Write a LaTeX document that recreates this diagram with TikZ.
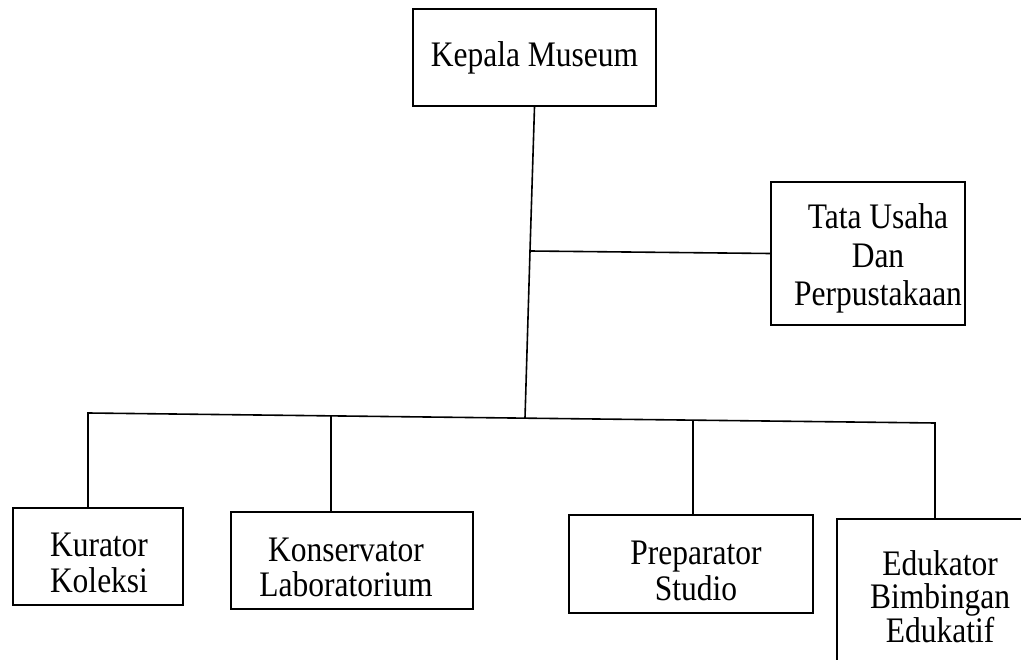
\documentclass[tikz,border=0pt]{standalone}
\usepackage{graphicx}
\usepackage{fontspec}
\setmainfont{Liberation Serif}
\newcommand\vstretch[1]{\scalebox{1}[1.14]{#1}}
\begin{document}
\begin{tikzpicture}[x=1pt,y=-1pt,
  box/.style={draw, line width=1.6pt, rectangle, inner sep=0pt},
  lbl/.style={inner sep=0pt, align=center, font=\fontsize{31.5}{36}\selectfont},
  link/.style={line width=1.6pt, line join=miter}]
\useasboundingbox (0,0) rectangle (1021,660);
\clip (0,0) rectangle (1021,660);

% boxes
\node[box, minimum width=243pt, minimum height=97pt] (kep) at (534.5,57.5) {};
\node[box, minimum width=194pt, minimum height=143pt] (tata) at (868,253.5) {};
\node[box, minimum width=170pt, minimum height=97pt] (kur) at (98,556.5) {};
\node[box, minimum width=242pt, minimum height=97pt] (kon) at (352,560.5) {};
\node[box, minimum width=244pt, minimum height=98pt] (pre) at (691,564) {};
\node[box, minimum width=230pt, minimum height=180pt, anchor=north west] (edu) at (836,518) {};

% texts
\node[lbl] (kept) at (534.5,57.6) {\vstretch{Kepala Museum}};
\node[lbl, font=\fontsize{31.5}{38.5}\selectfont] (tatat) at (878,258.5) {\vstretch{Tata Usaha}\\\vstretch{Dan}\\\vstretch{Perpustakaan}};
\node[lbl] (kurt) at (99,563.1) {\vstretch{Kurator}\\\vstretch{Koleksi}};
\node[lbl, font=\fontsize{31.5}{35}\selectfont] (kont) at (346,567.3) {\vstretch{Konservator}\\\vstretch{Laboratorium}};
\node[lbl] (pret) at (696,571.1) {\vstretch{Preparator}\\\vstretch{Studio}};
\node[lbl, font=\fontsize{31.5}{33.5}\selectfont] (edut) at (940,596.25) {\vstretch{Edukator}\\\vstretch{Bimbingan}\\\vstretch{Edukatif}};

% junctions
\coordinate (jtata) at (530,251);
\coordinate (jt) at (525,418);
\coordinate (j1) at (88,413);
\coordinate (j2) at (331,416);
\coordinate (j3) at (693,420);
\coordinate (j4) at (935,423);

% connectors
\draw[link] (kep.south) -- (jtata) -- (jt);
\draw[link] (jtata) -- (tata.west);
\draw[link] (j1 |- kur.north) -- (j1) -- (j4) -- (j4 |- edu.north);
\draw[link] (j2) -- (j2 |- kon.north);
\draw[link] (j3) -- (j3 |- pre.north);
\end{tikzpicture}
\end{document}
